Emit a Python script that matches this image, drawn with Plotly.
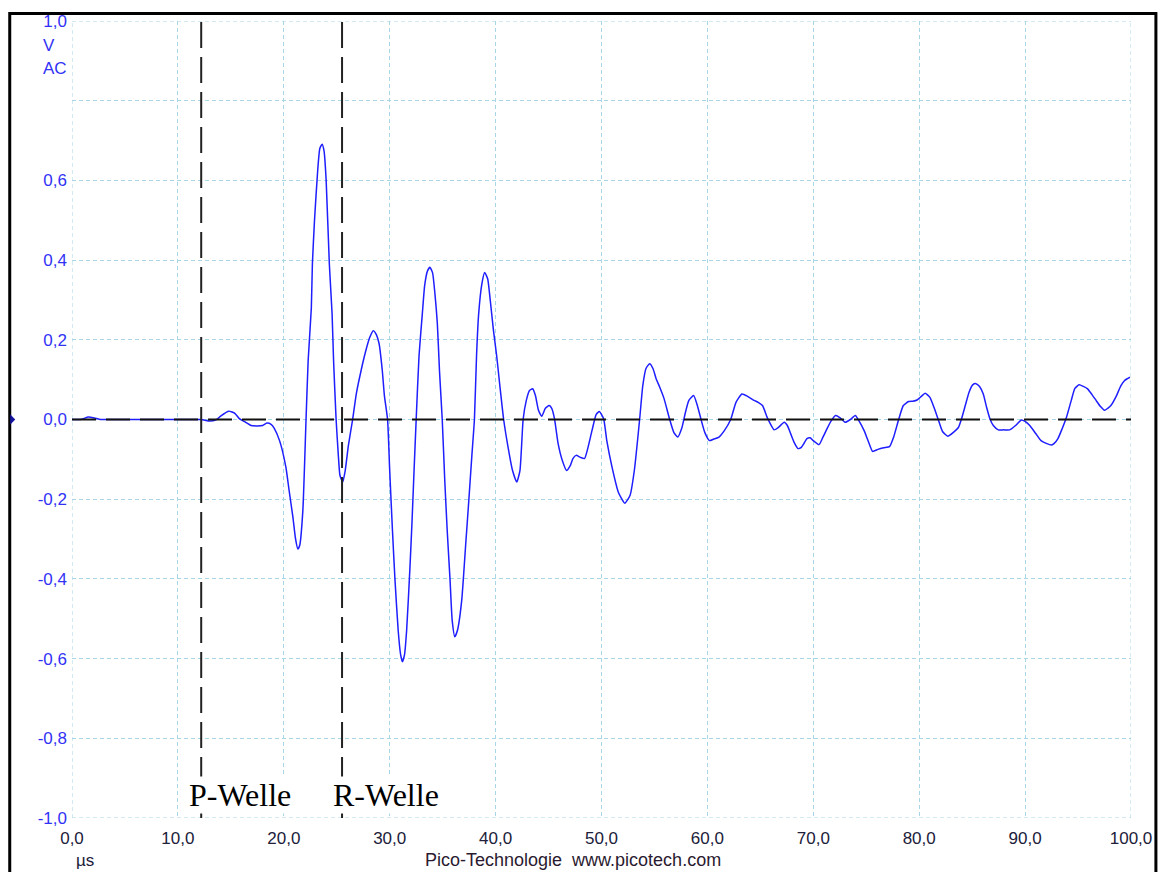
import plotly.graph_objects as go

# ---- data ----
time_us = [0.0, 0.8, 1.55, 2.1, 2.7, 3.6, 5.5, 8.3, 11.1, 12.2, 13.0, 13.6, 14.1, 14.8, 15.4, 15.8,
           16.4, 16.9, 17.5, 18.0, 18.4, 18.8, 19.1, 19.6, 20.2, 20.5, 20.86, 21.1, 21.33, 21.5, 21.8,
           22.1, 22.3, 22.6, 22.7, 22.9, 23.2, 23.4, 23.62, 23.8, 24.0, 24.3, 24.56, 24.7, 24.94,
           25.15, 25.3, 25.56, 25.8, 26.1, 26.5, 26.85, 27.3, 27.7, 28.1, 28.45, 28.7, 29.0, 29.3,
           29.5, 29.8, 30.0, 30.26, 30.5, 30.8, 31.03, 31.2, 31.4, 31.6, 31.9, 32.1, 32.3, 32.5,
           32.77, 33.08, 33.3, 33.57, 33.8, 34.05, 34.27, 34.5, 34.7, 34.96, 35.2, 35.43, 35.7,
           35.9, 36.15, 36.4, 36.8, 37.16, 37.47, 37.76, 38.0, 38.2, 38.4, 38.7, 38.97, 39.25,
           39.5, 39.8, 40.1, 40.4, 40.76, 41.2, 41.6, 42.0, 42.3, 42.6, 42.9, 43.2, 43.5, 43.76,
           44.05, 44.36, 44.7, 45.06, 45.3, 45.56, 45.9, 46.3, 46.7, 47.06, 47.3, 47.6, 48.0,
           48.4, 48.7, 49.1, 49.5, 49.8, 50.2, 50.5, 51.0, 51.6, 52.2, 52.7, 53.1, 53.6, 53.9,
           54.2, 54.55, 54.86, 55.15, 55.5, 55.9, 56.44, 56.84, 57.2, 57.6, 57.9, 58.25, 58.7,
           59.05, 59.4, 59.76, 60.2, 60.6, 61.1, 61.6, 62.2, 62.7, 63.26, 63.8, 64.4, 64.8, 65.2,
           65.7, 66.3, 66.7, 67.25, 67.55, 67.87, 68.2, 68.56, 68.87, 69.1, 69.4, 69.7, 70.0,
           70.54, 70.9, 71.3, 71.7, 72.1, 72.5, 73.0, 73.5, 73.97, 74.3, 74.8, 75.2, 75.6, 76.1,
           76.65, 77.2, 77.6, 78.06, 78.5, 79.0, 79.4, 79.8, 80.2, 80.56, 81.0, 81.4, 81.8, 82.2,
           82.7, 83.2, 83.7, 84.0, 84.35, 84.7, 85.05, 85.36, 85.7, 86.05, 86.37, 86.7, 87.0,
           87.47, 87.97, 88.55, 89.1, 89.65, 90.0, 90.44, 91.0, 91.5, 92.0, 92.5, 92.75, 93.1,
           93.5, 93.9, 94.36, 94.7, 95.1, 95.5, 95.9, 96.3, 96.7, 97.1, 97.5, 97.8, 98.1, 98.6,
           99.05, 99.4, 99.9]

voltage = [0.0, 0.0, 0.006, 0.004, 0.0, 0.0, 0.0, 0.0, 0.0, 0.0, -0.004, -0.001, 0.01, 0.021, 0.015,
           0.002, -0.007, -0.015, -0.016, -0.015, -0.009, -0.012, -0.022, -0.053, -0.12, -0.178,
           -0.245, -0.298, -0.325, -0.316, -0.228, 0.0, 0.148, 0.28, 0.39, 0.5, 0.625, 0.68, 0.691,
           0.674, 0.6, 0.39, 0.265, 0.148, 0.0, -0.09, -0.14, -0.157, -0.128, -0.065, 0.0, 0.065,
           0.123, 0.168, 0.205, 0.223, 0.215, 0.19, 0.123, 0.06, 0.0, -0.128, -0.278, -0.403,
           -0.529, -0.59, -0.608, -0.59, -0.529, -0.378, -0.261, -0.128, 0.0, 0.16, 0.265, 0.336,
           0.373, 0.382, 0.368, 0.316, 0.24, 0.123, 0.0, -0.153, -0.278, -0.403, -0.504, -0.545,
           -0.529, -0.454, -0.32, -0.203, -0.09, 0.0, 0.16, 0.265, 0.34, 0.369, 0.353, 0.298,
           0.223, 0.16, 0.085, 0.0, -0.073, -0.128, -0.157, -0.128, 0.0, 0.048, 0.073, 0.077,
           0.06, 0.023, 0.008, 0.028, 0.035, 0.028, 0.002, -0.06, -0.103, -0.128, -0.115, -0.098,
           -0.09, -0.095, -0.098, -0.073, -0.028, 0.013, 0.02, 0.002, -0.053, -0.12, -0.183, -0.21,
           -0.19, -0.128, 0.0, 0.085, 0.128, 0.14, 0.128, 0.103, 0.081, 0.053, 0.0, -0.033, -0.044,
           -0.02, 0.015, 0.048, 0.06, 0.035, 0.0, -0.033, -0.053, -0.049, -0.044, -0.028, 0.0,
           0.043, 0.064, 0.058, 0.048, 0.043, 0.035, 0.002, -0.026, -0.02, -0.007, -0.015, -0.036,
           -0.058, -0.073, -0.07, -0.061, -0.048, -0.046, -0.053, -0.063, -0.045, -0.023, -0.003,
           0.01, 0.005, -0.007, 0.0, 0.01, -0.003, -0.028, -0.055, -0.08, -0.075, -0.071, -0.068,
           -0.043, 0.0, 0.035, 0.045, 0.046, 0.049, 0.058, 0.066, 0.056, 0.03, 0.0, -0.03, -0.042,
           -0.033, -0.02, 0.002, 0.035, 0.068, 0.087, 0.09, 0.083, 0.064, 0.03, 0.0, -0.015,
           -0.026, -0.026, -0.026, -0.015, -0.001, -0.005, -0.015, -0.035, -0.053, -0.06, -0.064,
           -0.06, -0.048, -0.023, 0.005, 0.048, 0.078, 0.087, 0.083, 0.077, 0.063, 0.048, 0.033,
           0.023, 0.028, 0.035, 0.058, 0.085, 0.098, 0.106]

x_ticks = [0, 10, 20, 30, 40, 50, 60, 70, 80, 90, 100]
x_tick_labels = ["0,0", "10,0", "20,0", "30,0", "40,0", "50,0", "60,0", "70,0", "80,0", "90,0", "100,0"]
y_ticks = [-1.0, -0.8, -0.6, -0.4, -0.2, 0.0, 0.2, 0.4, 0.6, 0.8, 1.0]
y_tick_labels = ["-1,0", "-0,8", "-0,6", "-0,4", "-0,2", "0,0", "0,2", "0,4", "0,6", "", "1,0"]

wave_names = ["P-Welle", "R-Welle"]
wave_times = [12.2, 25.5]
wave_label_x = [11.0, 24.55]

SANS = "Liberation Sans, Arial, sans-serif"
SERIF = "Liberation Serif, Times New Roman, serif"
GRID = "rgb(168,214,230)"
YBLUE = "rgb(50,50,245)"
XDARK = "#20203a"

fig = go.Figure()
fig.add_trace(go.Scatter(x=time_us, y=voltage, mode="lines",
                         line=dict(color="rgb(30,30,255)", width=1.5, shape="spline", smoothing=0.5),
                         hoverinfo="skip", showlegend=False))
# small cursor triangles below the axis
fig.add_trace(go.Scatter(x=wave_times, y=[-1.012, -1.012], mode="markers",
                         marker=dict(symbol="triangle-up-open", size=5, color="#555",
                                     line=dict(width=1, color="#555")),
                         cliponaxis=False, hoverinfo="skip", showlegend=False))

fig.update_layout(
    width=1164, height=872,
    margin=dict(l=72, r=29, t=20, b=54),
    paper_bgcolor="white", plot_bgcolor="white",
    showlegend=False,
    xaxis=dict(range=[0, 100], tickvals=x_ticks, ticktext=x_tick_labels,
               showgrid=True, gridcolor=GRID, griddash="4px,3px", gridwidth=1,
               zeroline=False, showline=False, ticks="",
               ticklabelstandoff=8,
               tickfont=dict(family=SANS, size=17, color=XDARK)),
    yaxis=dict(range=[-1, 1], tickvals=y_ticks, ticktext=y_tick_labels,
               showgrid=True, gridcolor=GRID, griddash="4px,3px", gridwidth=1,
               zeroline=False, showline=False, ticks="",
               ticklabelstandoff=4,
               tickfont=dict(family=SANS, size=17, color=YBLUE)),
)

shapes = []
# dashed plot frame (grid at edges)
for xv in [0, 100]:
    shapes.append(dict(type="line", xref="x", yref="y", x0=xv, x1=xv, y0=-1, y1=1,
                       line=dict(color=GRID, width=1, dash="4px,3px"), layer="below"))
for yv in [-1, 1]:
    shapes.append(dict(type="line", xref="x", yref="y", x0=0, x1=100, y0=yv, y1=yv,
                       line=dict(color=GRID, width=1, dash="4px,3px"), layer="below"))
# zero line
shapes.append(dict(type="line", xref="x", yref="y", x0=0, x1=100, y0=0, y1=0,
                   line=dict(color="#111", width=2, dash="24px,10px"), layer="above"))
# wave markers
for t in wave_times:
    shapes.append(dict(type="line", xref="x", yref="y", x0=t, x1=t, y0=-1, y1=1.005,
                       line=dict(color="#222", width=2, dash="26px,9px"), layer="above"))
# outer black frame
shapes.append(dict(type="rect", xref="paper", yref="paper",
                   x0=(9.5 - 72) / 1063, x1=(1160 - 72) / 1063,
                   y0=-0.2, y1=(818 - 12.5) / 798,
                   line=dict(color="black", width=3), fillcolor="rgba(0,0,0,0)", layer="above"))
# trigger marker on the left edge
tx0 = (10 - 72) / 1063
tx1 = (15 - 72) / 1063
shapes.append(dict(type="path", xref="paper", yref="y",
                   path=f"M {tx0},0.013 L {tx1},0 L {tx0},-0.013 Z",
                   fillcolor="rgb(20,20,160)", line=dict(width=0), layer="above"))
fig.update_layout(shapes=shapes)

annotations = [
    dict(text="V", xref="paper", yref="paper", x=(41 - 72) / 1063, y=(818 - 45) / 798,
         xanchor="left", yanchor="middle", showarrow=False,
         font=dict(family=SANS, size=17, color=YBLUE)),
    dict(text="AC", xref="paper", yref="paper", x=(41 - 72) / 1063, y=(818 - 68) / 798,
         xanchor="left", yanchor="middle", showarrow=False,
         font=dict(family=SANS, size=17, color=YBLUE)),
    dict(text="µs", xref="paper", yref="paper", x=(85 - 72) / 1063, y=-(861 - 818) / 798,
         xanchor="center", yanchor="middle", showarrow=False,
         font=dict(family=SANS, size=17, color=XDARK)),
    dict(text="Pico-Technologie\u00a0\u00a0www.picotech.com", xref="paper", yref="paper",
         x=(575 - 72) / 1063, y=-(860 - 818) / 798,
         xanchor="center", yanchor="middle", showarrow=False,
         font=dict(family=SANS, size=18, color="#2a1a30")),
]
for name, lx in zip(wave_names, wave_label_x):
    annotations.append(dict(text=name, xref="x", yref="paper", x=lx, y=(818 - 795) / 798,
                            xanchor="left", yanchor="middle", showarrow=False,
                            bgcolor="white", borderpad=0,
                            font=dict(family=SERIF, size=32, color="black")))
fig.update_layout(annotations=annotations)

fig.write_html("out.html")
